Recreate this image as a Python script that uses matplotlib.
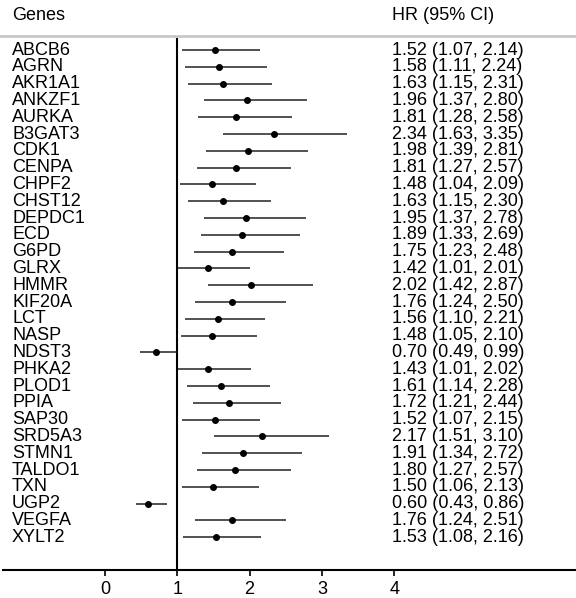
import numpy as np
import matplotlib.pyplot as plt

plt.rcParams['font.family'] = ['Liberation Sans', 'DejaVu Sans']

genes = ['ABCB6', 'AGRN', 'AKR1A1', 'ANKZF1', 'AURKA', 'B3GAT3', 'CDK1', 'CENPA',
         'CHPF2', 'CHST12', 'DEPDC1', 'ECD', 'G6PD', 'GLRX', 'HMMR', 'KIF20A',
         'LCT', 'NASP', 'NDST3', 'PHKA2', 'PLOD1', 'PPIA', 'SAP30', 'SRD5A3',
         'STMN1', 'TALDO1', 'TXN', 'UGP2', 'VEGFA', 'XYLT2']
hr = [1.52, 1.58, 1.63, 1.96, 1.81, 2.34, 1.98, 1.81, 1.48, 1.63, 1.95, 1.89,
      1.75, 1.42, 2.02, 1.76, 1.56, 1.48, 0.70, 1.43, 1.61, 1.72, 1.52, 2.17,
      1.91, 1.80, 1.50, 0.60, 1.76, 1.53]
lower = [1.07, 1.11, 1.15, 1.37, 1.28, 1.63, 1.39, 1.27, 1.04, 1.15, 1.37, 1.33,
         1.23, 1.01, 1.42, 1.24, 1.10, 1.05, 0.49, 1.01, 1.14, 1.21, 1.07, 1.51,
         1.34, 1.27, 1.06, 0.43, 1.24, 1.08]
upper = [2.14, 2.24, 2.31, 2.80, 2.58, 3.35, 2.81, 2.57, 2.09, 2.30, 2.78, 2.69,
         2.48, 2.01, 2.87, 2.50, 2.21, 2.10, 0.99, 2.02, 2.28, 2.44, 2.15, 3.10,
         2.72, 2.57, 2.13, 0.86, 2.51, 2.16]
xticks = [0, 1, 2, 3, 4]

fs = 13
fig = plt.figure(figsize=(5.76, 5.98), dpi=100)
ax = fig.add_axes([3 / 576, 28 / 598, 573 / 576, 570 / 598])

rows = np.arange(len(genes))
y_bottom = 30.95
ax.set_ylim(y_bottom, -2.976)
ax.set_xlim(-1.411, 6.514)

# reference line at HR = 1
ax.vlines(1, -0.72, y_bottom, color='black', lw=1.5)
# header separator
ax.axhline(-0.83, xmin=-3 / 573, color='#c8c8c8', lw=2, clip_on=False)

ax.hlines(rows, lower, upper, color='#222222', lw=1.1)
ax.plot(hr, rows, 'o', color='black', ms=4)

ax.text(-1.286, -2.08, 'Genes', fontsize=fs, va='center', ha='left')
ax.text(3.97, -2.08, 'HR (95% CI)', fontsize=fs, va='center', ha='left')
for i, g in enumerate(genes):
    ax.text(-1.286, i, g, fontsize=fs, va='center', ha='left')
    ax.text(3.97, i, '%.2f (%.2f, %.2f)' % (hr[i], lower[i], upper[i]),
            fontsize=fs, va='center', ha='left')

for s in ['top', 'right', 'left']:
    ax.spines[s].set_visible(False)
ax.spines['bottom'].set_linewidth(1.5)
ax.set_yticks([])
ax.set_xticks(xticks)
ax.tick_params(axis='x', length=4, width=1.2, labelsize=fs, pad=4)

fig.savefig('out.png', dpi=100)
